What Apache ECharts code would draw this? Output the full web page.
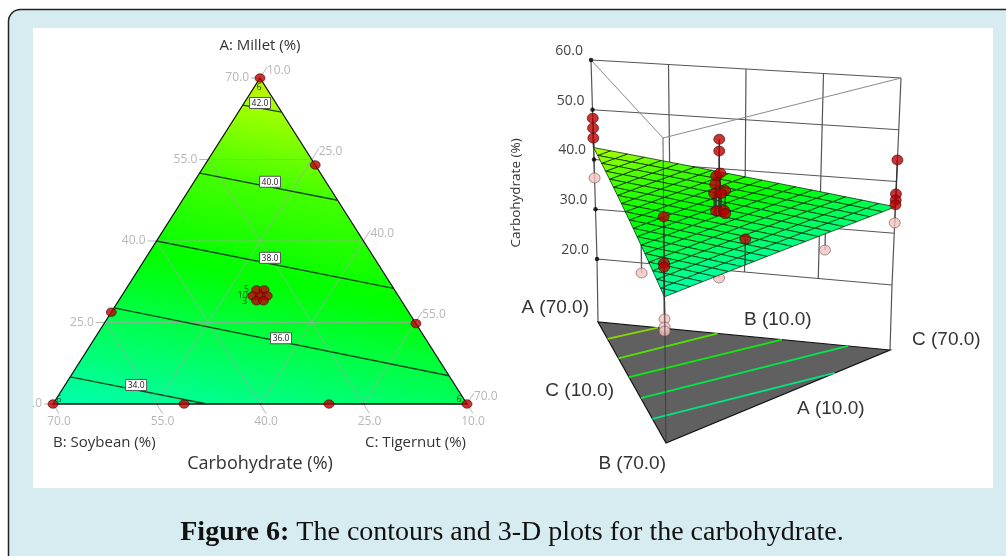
<!DOCTYPE html>
<html><head><meta charset="utf-8">
<style>html,body{margin:0;padding:0;background:#fff}#c{width:1006px;height:556px}</style>
<script src="https://cdn.jsdelivr.net/npm/echarts@6/dist/echarts.min.js"></script>
</head><body><div id="c"></div>
<script>
// ---------- data (A, B, C in %, z = carbohydrate %) ----------
const ternaryTicks = [10, 25, 40, 55, 70];
const leftTickLabels = ['.0', '25.0', '40.0', '55.0', '70.0'];
const rightTickLabels = ['10.0', '25.0', '40.0', '55.0', '70.0'];
const bottomTickLabels = ['10.0', '25.0', '40.0', '55.0', '70.0'];

const designPoints = [[70,10,10],[54,10,26],[26.9,53.1,10],[24.8,10,55.2],[10,51,29],[10,30,50],[10,70,10],[10,10,70],
  [31,30,29],[31,28.9,30.1],[29.9,31.1,29],[29.9,30,30.1],[29.9,29,31.1],[29,31,30],[29,30,31]];
const replicateLabels = [['6',[70,10,10],-1,9],['6',[10,70,10],6,-5],['6',[10,10,70],-8,-5],
  ['5',[31,30,29],-10,0],['10',[29.9,31.1,29],-10,0],['3',[29,31,30],-12,1]];

const contourLevels = [34, 36, 38, 40, 42];
const contourStart = [[15,65,10],[27.7,52.3,10],[40,40,10],[52.5,27.5,10],[65,15,10]];
const contourEnd = [[10,47.7,32.3],[15.2,10,64.8],[31.3,10,48.7],[47.5,10,32.5],[63.7,10,16.3]];
const contourLabelAt = [[13.5,56.2,20.3],[22.1,30.9,37],[36.9,25.1,28],[50.9,18.1,21],[65.4,12.3,12.3]];
const contourVertexValues = [42.8, 33.2, 35.4];

const zTicks = [20, 30, 40, 50, 60];
const zTickLabels = ['20.0', '30.0', '40.0', '50.0', '60.0'];
const wallColumns = [25, 40, 55];
const surfaceVertexValues = [42.4, 33.2, 35.1];
const surfaceDivisions = 18;

const redPoints = [[70,10,10,48.3],[70,10,10,46.3],[70,10,10,44.3],
  [10,10,70,44.15],[10,10,70,37.6],[10,10,70,36.4],[10,10,70,35.5],
  [10,70,10,46.7],[10,70,10,38.9],[10,70,10,38.2],[10,49,31,38.46],
  [29.8,30,30.2,51.2],[29.8,30,30.2,49],[30.4,30,29.6,44.3],[29.6,30,30.4,44.9],[30.6,30,29.4,42.7],
  [28.6,30,31.4,41.7],[30.8,30,29.2,41],[29.4,30,30.6,41.1],[30.4,30,29.6,37.8],[28.8,30,31.2,38],[28.6,30,31.4,37.4]];
const pinkPoints = [[70,10,10,36.3],[10,10,70,32],[10,70,10,29.45],[10,70,10,28.1],[10,70,10,27.4],
  [29.8,50.2,10,31.35],[23.8,10,56.2,25.65],[29.8,30,30.2,25.3]];

// floor contours: fraction along A-B edge, then end point on the A-C or B-C edge (A,B,C %)
const floorContourStart = [[61.6,18.4,10],[52,28,10],[42.7,37.3,10],[32.2,47.8,10],[22,58,10]];
const floorContourEnd = [[57.7,10,22.3],[45.4,10,34.6],[32.2,10,47.8],[18.6,10,61.4],[10,24.8,55.2]];
const floorContourColors = ['#86d800','#4fe400','#10e810','#00e848','#00e484'];

const colorStops = [[33.2,'#00ffae'],[34,'#00ff92'],[36,'#00ff44'],[37.6,'#00ff00'],[40,'#44ff00'],[42,'#a0ff00'],[42.8,'#c8f000']];

// ---------- scales ----------
const frac = p => [(p[0]-10)/60, (p[1]-10)/60, (p[2]-10)/60];
const simplex = p => { const f = frac(p); return [f[2] + f[0]/2, f[0]]; };
// camera: where each mixture vertex's vertical axis falls on the picture plane
const cam = [{x:597,y:259,dx:-.15,dy:-4.975},{x:665,y:375,dx:-.05,dy:-5.925},{x:892,y:285,dx:.225,dy:-5.175}];
const floorCam = [[598,322],[666,443],[890,350]];
const project = (p, z) => {
  const f = frac(p); let x = 0, y = 0;
  cam.forEach((c, i) => { x += f[i]*(c.x + c.dx*(z-20)); y += f[i]*(c.y + c.dy*(z-20)); });
  return [x, y];
};
const floorProject = p => {
  const f = frac(p); let x = 0, y = 0;
  floorCam.forEach((c, i) => { x += f[i]*c[0]; y += f[i]*c[1]; });
  return [x, y];
};
const surfaceZ = p => { const f = frac(p); return f[0]*surfaceVertexValues[0]+f[1]*surfaceVertexValues[1]+f[2]*surfaceVertexValues[2]; };
const hex = h => [1,3,5].map(i => parseInt(h.substr(i,2),16));
function colorAt(v) {
  if (v <= colorStops[0][0]) return colorStops[0][1];
  for (let i = 1; i < colorStops.length; i++) if (v <= colorStops[i][0]) {
    const t = (v-colorStops[i-1][0])/(colorStops[i][0]-colorStops[i-1][0]);
    const a = hex(colorStops[i-1][1]), b = hex(colorStops[i][1]);
    return 'rgb('+a.map((q,k)=>Math.round(q+(b[k]-q)*t)).join(',')+')';
  }
  return colorStops[colorStops.length-1][1];
}

// ---------- series helpers ----------
function layer(grid, z, items, draw) {
  return {type:'custom', coordinateSystem:'cartesian2d', xAxisIndex:grid, yAxisIndex:grid, z, silent:true, clip:false,
    animation:false, encode:{x:0,y:1}, data:items.map((_, i) => [0, 0, i]),
    renderItem:(p, api) => draw(items[p.dataIndex], api.coord)};
}
const polyline = (pts, stroke, lineWidth) => ({type:'polyline', shape:{points:pts}, style:{stroke, lineWidth, fill:null}});
const polygon = (pts, fill, stroke, lineWidth) => ({type:'polygon', shape:{points:pts}, style:{fill, stroke, lineWidth}});
const label = (x, y, text, font, fill, align, rotation) => ({type:'text', x, y, rotation:rotation||0,
  style:{text, font, fill, align:align||'center', verticalAlign:'middle'}});

const SANS = '"Open Sans","Noto Sans",sans-serif';
const ARIAL = '"Liberation Sans",Arial,sans-serif';
const GRID_C = 'rgba(165,165,165,.72)';
const TICK_C = '#b7b7b7';
const T = p => simplex(p);
const series = [];

// ----- left: ternary contour plot -----
series.push(layer(0, 2, [0], (_, c) => {
  const pA = c(T([70,10,10])), pB = c(T([10,70,10])), pC = c(T([10,10,70]));
  const [vA, vB, vC] = contourVertexValues;
  const e1 = [pA[0]-pB[0], pA[1]-pB[1]], e2 = [pC[0]-pB[0], pC[1]-pB[1]];
  const d1 = vA-vB, d2 = vC-vB, det = e1[0]*e2[1]-e1[1]*e2[0];
  const gx = (d1*e2[1]-d2*e1[1])/det, gy = (e1[0]*d2-e2[0]*d1)/det, k = d1/(gx*gx+gy*gy);
  return polygon([pA,pB,pC], {type:'linear', global:true, x:pB[0], y:pB[1], x2:pB[0]+gx*k, y2:pB[1]+gy*k,
    colorStops:colorStops.map(s => ({offset:(s[0]-vB)/d1, color:s[1]}))}, null, 0);
}));
const gridLines = [];
[25,40,55].forEach(v => {
  const r = 90 - v;
  gridLines.push([[v, r-10, 10],[v, 10, r-10]], [[r-10, v, 10],[10, v, r-10]], [[r-10, 10, v],[10, r-10, v]]);
});
series.push(layer(0, 3, gridLines, (l, c) => polyline(l.map(p => c(T(p))), GRID_C, 1)));
const tickMarks = [], tickTexts = [];
ternaryTicks.forEach((v, i) => {
  const r = 90 - v;
  // A scale on the left edge
  const l0 = [v, r-10, 10], l1 = [v, r-10+1.3, 10-1.3];
  tickMarks.push([l0, l1]); tickTexts.push([l1, -2, 0, leftTickLabels[i], 'right']);
  // C scale on the right edge
  const rr0 = [r-10, 10, v], rr1 = [r-10+2, 10-2, v];
  tickMarks.push([rr0, rr1]); tickTexts.push([rr1, 0, 3, rightTickLabels[i], 'left']);
  // B scale on the bottom edge
  const b0 = [10, v, r-10], b1 = [10-1.75, v, r-10+1.75];
  tickMarks.push([b0, b1]); tickTexts.push([b1, 0, 8, bottomTickLabels[i], 'center']);
});
series.push(layer(0, 3, tickMarks, (l, c) => polyline(l.map(p => c(T(p))), TICK_C, 1)));
series.push(layer(0, 3, tickTexts, (t, c) => { const q = c(T(t[0])); return label(q[0]+t[1], q[1]+t[2], t[3], '12px '+SANS, TICK_C, t[4]); }));
series.push(layer(0, 4, [0], (_, c) => polyline([[70,10,10],[10,70,10],[10,10,70],[70,10,10]].map(p => c(T(p))), '#111', 1.3)));
series.push(layer(0, 4, contourLevels.map((l, i) => [contourStart[i], contourEnd[i]]), (l, c) => polyline(l.map(p => c(T(p))), 'rgba(15,55,25,.92)', 1.3)));
series.push(layer(0, 5, contourLevels.map((l, i) => [contourLabelAt[i], l.toFixed(1)]), (t, c) => {
  const q = c(T(t[0]));
  return {type:'group', children:[
    {type:'rect', shape:{x:q[0]-10.5, y:q[1]-5.5, width:21, height:11}, style:{fill:'#fff', stroke:'#555', lineWidth:1}},
    label(q[0], q[1]+.5, t[1], '8.5px '+SANS, '#222')]};
}));
series.push({type:'scatter', xAxisIndex:0, yAxisIndex:0, z:6, silent:true, clip:false, animation:false, symbol:'circle', symbolSize:[10,8.5],
  itemStyle:{color:'#bb0000', borderColor:'#3a1010', borderWidth:.8}, data:designPoints.map(T)});
series.push(layer(0, 7, replicateLabels, (t, c) => { const q = c(T(t[1])); return label(q[0]+t[2], q[1]+t[3], t[0], '9px '+SANS, '#14520f', 'center'); }));

// ----- right: 3-D surface -----
const AV = [70,10,10], BV = [10,70,10], CV = [10,10,70];
const wall = [];
zTicks.forEach(z => wall.push([project(AV,z), project(CV,z)]));
wallColumns.forEach(v => { const p = [90-v-10, 10, v]; wall.push([project(p,60), project(p,20)]); });
wall.push([project(CV,60), project(CV,20), floorProject(CV)]);
wall.push([project(AV,60), project(AV,20), floorProject(AV)]);
series.push(layer(1, 2, wall, (l, c) => polyline(l.map(q => c(q)), '#555', 1.2)));
series.push(layer(1, 2, [[project(AV,60), project(BV,60), project(CV,60)]], (l, c) => polyline(l.map(q => c(q)), '#8a8a8a', 1)));
series.push(layer(1, 3, [[AV,BV,CV]], (l, c) => polygon(l.map(p => c(floorProject(p))), '#606060', '#111', 1.2)));
series.push(layer(1, 3, floorContourColors.map((col, i) => [floorContourStart[i], floorContourEnd[i], col]),
  (l, c) => polyline([c(floorProject(l[0])), c(floorProject(l[1]))], l[2], 1.8)));
const drop = pt => [project(pt, pt[3]), project(pt, surfaceZ(pt))];
series.push(layer(1, 4, pinkPoints, (pt, c) => polyline(drop(pt).map(q => c(q)), '#555', 1.3)));
series.push({type:'scatter', xAxisIndex:1, yAxisIndex:1, z:4, silent:true, clip:false, animation:false, symbol:'circle', symbolSize:[11,10],
  itemStyle:{color:'#f6c2c0', borderColor:'#6e5a5a', borderWidth:.8}, data:pinkPoints.map(p => project(p, p[3]))});
// mesh cells of the fitted plane
const cells = [];
const n = surfaceDivisions, pct = (i, j) => [10+60*i/n, 10+60*j/n, 10+60*(n-i-j)/n];
for (let i = 0; i < n; i++) for (let j = 0; j < n-i; j++) {
  cells.push(i+j+2 <= n ? [pct(i,j), pct(i+1,j), pct(i+1,j+1), pct(i,j+1)] : [pct(i,j), pct(i+1,j), pct(i,j+1)]);
}
series.push(layer(1, 5, cells, (cell, c) => {
  const pts = cell.map(p => c(project(p, surfaceZ(p))));
  const m = cell.reduce((s, p) => s + surfaceZ(p), 0)/cell.length;
  return polygon(pts, colorAt(m), 'rgba(5,40,10,.85)', .9);
}));
series.push(layer(1, 6, [[project(BV,60), floorProject(BV)]], (l, c) => polyline(l.map(q => c(q)), 'rgba(50,50,50,.7)', 1.1)));
series.push(layer(1, 7, redPoints, (pt, c) => polyline(drop(pt).map(q => c(q)), '#333', 1.3)));
series.push({type:'scatter', xAxisIndex:1, yAxisIndex:1, z:8, silent:true, clip:false, animation:false, symbol:'circle', symbolSize:[11,10],
  itemStyle:{color:'#bb0000', borderColor:'#3a1010', borderWidth:.8}, data:redPoints.map(p => project(p, p[3]))});
series.push({type:'scatter', xAxisIndex:1, yAxisIndex:1, z:7, silent:true, clip:false, animation:false, symbol:'circle', symbolSize:4.5,
  itemStyle:{color:'#000'}, data:zTicks.map(z => project(AV, z))});
series.push(layer(1, 7, zTicks.map((z, i) => [z, zTickLabels[i]]), (t, c) => {
  const q = c(project(AV, t[0])); return label(q[0]-8, q[1]-9, t[1], '14px '+SANS, '#444', 'right');
}));
const floorTexts = [
  ['A (70.0)', AV, -9, -14, 'right'], ['C (10.0)', [40,40,10], -18, 8, 'right'], ['B (70.0)', BV, 0, 21, 'right'],
  ['B (10.0)', [40,10,40], 0, -16, 'left'], ['C (70.0)', CV, 22, -10, 'left'], ['A (10.0)', [10,40,40], 19, 12.5, 'left']];
series.push(layer(1, 7, floorTexts, (t, c) => { const q = c(floorProject(t[1])); return label(q[0]+t[2], q[1]+t[3], t[0], '19px '+ARIAL, '#333', t[4]); }));

const hiddenX = (min, max, gridIndex) => ({type:'value', show:false, min, max, gridIndex});
const option = {
  animation:false,
  backgroundColor:'#fff',
  grid:[{left:53, top:78, width:414, height:326},{left:540, top:40, width:450, height:420}],
  xAxis:[hiddenX(0,1,0), hiddenX(540,990,1)],
  yAxis:[hiddenX(0,1,0), Object.assign(hiddenX(40,460,1), {inverse:true})],
  series,
  graphic:[
    {type:'rect', z:-10, shape:{x:8.5, y:9.5, width:1030, height:580, r:12}, style:{fill:'#d7ecf1', stroke:'#222', lineWidth:1.5}},
    {type:'rect', z:-9, shape:{x:33, y:28, width:960, height:460}, style:{fill:'#fff'}},
    {type:'text', z:20, x:260, y:46, style:{text:'A: Millet (%)', font:'15px '+SANS, fill:'#333', align:'center', verticalAlign:'middle'}},
    {type:'text', z:20, x:53, y:443, style:{text:'B: Soybean (%)', font:'15px '+SANS, fill:'#333', align:'left', verticalAlign:'middle'}},
    {type:'text', z:20, x:466, y:443, style:{text:'C: Tigernut (%)', font:'15px '+SANS, fill:'#333', align:'right', verticalAlign:'middle'}},
    {type:'text', z:20, x:260, y:464, style:{text:'Carbohydrate (%)', font:'18px '+SANS, fill:'#333', align:'center', verticalAlign:'middle'}},
    {type:'text', z:20, x:516, y:193, rotation:Math.PI/2, style:{text:'Carbohydrate (%)', font:'13.5px '+SANS, fill:'#333', align:'center', verticalAlign:'middle'}},
    {type:'text', z:20, x:512, y:533, style:{rich:{b:{font:'bold 28px "Liberation Serif",serif', fill:'#111'}, r:{font:'28px "Liberation Serif",serif', fill:'#111'}},
      text:'{b|Figure 6:}{r| The contours and 3-D plots for the carbohydrate.}', align:'center', verticalAlign:'middle'}}
  ]
};
echarts.init(document.getElementById('c'), null, {renderer:'canvas'}).setOption(option);
</script></body></html>
